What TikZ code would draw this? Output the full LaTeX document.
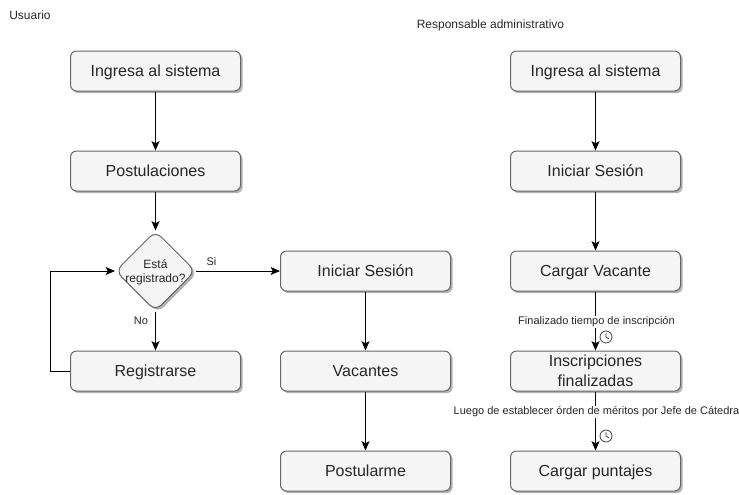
\documentclass[tikz,border=0pt]{standalone}
\usepackage{fontspec}
\setmainfont{Liberation Sans}
\usetikzlibrary{shapes.geometric,shadows,arrows.meta,calc}
\tikzset{
  x=0.75pt,y=-0.75pt,
  softshadow/.style={drop shadow={shadow xshift=1.6pt,shadow yshift=-1.6pt,fill=black,opacity=0.3}},
  flowbox/.style={draw=black!60,fill=black!4,line width=0.75pt,rounded corners=4.5pt,minimum width=127.5pt,minimum height=30pt,inner sep=0pt,align=center,font=\fontsize{12}{15}\selectfont,text=black!85,softshadow},
  oneline/.style={flowbox,text height=10.2pt,text depth=2.6pt},
  decision/.style={diamond,draw=black!60,fill=black!4,line width=0.75pt,rounded corners=6pt,minimum width=60pt,minimum height=60pt,inner sep=0pt,softshadow},
  flow/.style={draw=black,line width=0.75pt,-{Stealth[length=7pt,width=6pt,inset=1.5pt]}},
  caption/.style={font=\fontsize{9}{10.5}\selectfont,text=black!85,inner sep=0.8pt},
  edgelabel/.style={font=\fontsize{8.25}{10}\selectfont,text=black!85,inner sep=0.8pt,fill=white},
  clockface/.style={circle,draw=black!75,fill=white,line width=0.6pt,minimum size=9pt,inner sep=0pt},
}
\newcommand{\clockhands}[1]{\draw[black!75,line width=0.6pt] ($(#1.center)+(0,-4)$) -- (#1.center) -- ($(#1.center)+(3,2)$);}
\begin{document}
\begin{tikzpicture}
\useasboundingbox (0.5,0) rectangle (739.5,494);
\node[caption,anchor=center] (usuario) at (30.5,15) {Usuario};
\node[caption,anchor=center] (resp) at (491,25) {Responsable administrativo};
\node[oneline] (a1) at (156,71) {Ingresa al sistema};
\node[oneline] (a2) at (156,171) {Postulaciones};
\node[decision,label={[font=\fontsize{9}{10.5}\selectfont,text=black!85,align=center,yshift=-0.75pt]center:Está\\registrado?}] (a3) at (156,271) {};
\node[oneline] (a4) at (156,371) {Registrarse};
\node[oneline] (b1) at (366,271) {Iniciar Sesión};
\node[oneline] (b2) at (366,371) {Vacantes};
\node[oneline] (b3) at (366,471) {Postularme};
\node[oneline] (c1) at (596,71) {Ingresa al sistema};
\node[oneline] (c2) at (596,171) {Iniciar Sesión};
\node[oneline] (c3) at (596,271) {Cargar Vacante};
\node[flowbox] (c4) at (596,371) {Inscripciones\\finalizadas};
\node[oneline] (c5) at (596,471) {Cargar puntajes};
\draw[flow] (a1) -- (a2);
\draw[flow] (a2) -- (a3);
\draw[flow] (a3) -- (a4);
\draw[flow] (a3) -- (b1);
\draw[flow] (a4.west) -- (51,371) -- (51,271) -- (a3.west);
\draw[flow] (b1) -- (b2);
\draw[flow] (b2) -- (b3);
\draw[flow] (c1) -- (c2);
\draw[flow] (c2) -- (c3);
\draw[flow] (c3) -- (c4);
\draw[flow] (c4) -- (c5);
\node[edgelabel] (si) at (212,261.5) {Si};
\node[edgelabel] (no) at (141.5,320.5) {No};
\node[edgelabel] (l1) at (597,322) {Finalizado tiempo de inscripción};
\node[edgelabel] (l2) at (597,412) {Luego de establecer órden de méritos por Jefe de Cátedra};
\node[clockface] (k1) at (606.5,337) {};
\node[clockface] (k2) at (606.5,436) {};
\clockhands{k1}
\clockhands{k2}
\end{tikzpicture}
\end{document}
